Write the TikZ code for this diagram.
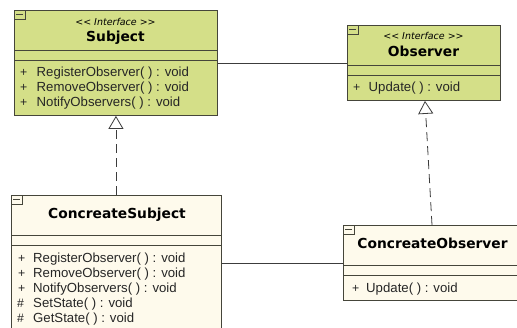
\documentclass[tikz,border=0pt]{standalone}
\usepackage{fontspec}
\setmainfont{Liberation Sans}
\newfontfamily\titlefont{DejaVu Sans}
\usetikzlibrary{arrows.meta}
\definecolor{ifacefill}{HTML}{D4DF88}
\definecolor{classfill}{HTML}{FEFAEC}
\definecolor{edgecol}{HTML}{45453A}
\definecolor{linkcol}{HTML}{3C3C3C}
\tikzset{
  iface/.style={draw=edgecol, fill=ifacefill, line width=0.9pt, inner sep=0pt, anchor=north west},
  concrete/.style={draw=edgecol, fill=classfill, line width=0.9pt, inner sep=0pt, anchor=north west},
  sepline/.style={draw=edgecol, line width=0.9pt},
  stereo/.style={anchor=base, inner sep=0pt, font=\titlefont\itshape\fontsize{9.5}{11}\selectfont},
  classname/.style={anchor=base, inner sep=0pt, font=\titlefont\bfseries\fontsize{13.8}{15}\selectfont},
  member/.style={anchor=base west, inner sep=0pt, font=\fontsize{13.2}{15}\selectfont, text=black!85},
  vis/.style={anchor=base west, inner sep=0pt, font=\fontsize{12.3}{14}\selectfont, text=black!85},
  assoc/.style={draw=linkcol, line width=0.8pt},
  realize/.style={draw=linkcol, line width=0.8pt, dash pattern=on 9pt off 5pt,
    -{Triangle[open, width=15pt, length=13pt, line width=0.8pt, fill=white]}},
  collapse/.style={draw=edgecol, line width=0.8pt}
}
\newcommand{\collapsemark}[2]{%
  \draw[collapse] (#1,#2) rectangle ++(11,9);
  \draw[collapse] (#1+2,#2+4) -- ++(7,0);}
\begin{document}
\begin{tikzpicture}[x=1pt,y=-1pt]
\useasboundingbox (0,0) rectangle (517,328);
\clip (0,0) rectangle (517,328);
\fill[white] (0,0) rectangle (517,328);

% Subject interface
\node[iface, minimum width=203pt, minimum height=105pt] (subj) at (14,10) {};
\draw[sepline] (14,50) -- (217,50);
\draw[sepline] (14,60) -- (217,60);
\collapsemark{14}{10}
\node[stereo] (subjst) at (115.5,26) {<< Interface >>};
\node[classname] (subjname) at (115.5,42) {Subject};
\node[vis] (subjv1) at (20,77) {+};
\node[member] (subjm1) at (36.5,77) {RegisterObserver( ) : void};
\node[vis] (subjv2) at (20,92) {+};
\node[member] (subjm2) at (36.5,92) {RemoveObserver( ) : void};
\node[vis] (subjv3) at (20,107) {+};
\node[member] (subjm3) at (36.5,107) {NotifyObservers( ) : void};

% Observer interface
\node[iface, minimum width=153pt, minimum height=75pt] (obs) at (347,25) {};
\draw[sepline] (347,65) -- (500,65);
\draw[sepline] (347,75) -- (500,75);
\collapsemark{347}{25}
\node[stereo] (obsst) at (423.5,40) {<< Interface >>};
\node[classname] (obsname) at (423.5,57) {Observer};
\node[vis] (obsv1) at (353,92) {+};
\node[member] (obsm1) at (368.5,92) {Update( ) : void};

% ConcreateSubject class
\node[concrete, minimum width=210pt, minimum height=150pt] (csub) at (11,195) {};
\draw[sepline] (11,235) -- (221,235);
\draw[sepline] (11,245) -- (221,245);
\collapsemark{11}{195}
\node[classname] (csubname) at (117,219) {ConcreateSubject};
\node[vis] (csubv1) at (18,263) {+};
\node[member] (csubm1) at (33,263) {RegisterObserver( ) : void};
\node[vis] (csubv2) at (18,278) {+};
\node[member] (csubm2) at (33,278) {RemoveObserver( ) : void};
\node[vis] (csubv3) at (18,293) {+};
\node[member] (csubm3) at (33,293) {NotifyObservers( ) : void};
\node[vis] (csubv4) at (17,308) {\#};
\node[member] (csubm4) at (33,308) {SetState( ) : void};
\node[vis] (csubv5) at (17,323) {\#};
\node[member] (csubm5) at (33,323) {GetState( ) : void};

% ConcreateObserver class
\node[concrete, minimum width=190pt, minimum height=75pt] (cobs) at (343,225) {};
\draw[sepline] (343,265) -- (533,265);
\draw[sepline] (343,275) -- (533,275);
\collapsemark{343}{225}
\node[classname] (cobsname) at (432.5,249) {ConcreateObserver};
\node[vis] (cobsv1) at (352,293) {+};
\node[member] (cobsm1) at (366,293) {Update( ) : void};

% associations
\draw[assoc] (subj.east) -- (obs.west);
\draw[assoc] (csub.east |- cobs.west) -- (cobs.west);

% realizations
\draw[realize] (csub.north -| subj.south) -- (subj.south);
\draw[realize] ([xshift=89pt]cobs.north west) -- ([xshift=78pt]obs.south west);
\end{tikzpicture}
\end{document}
